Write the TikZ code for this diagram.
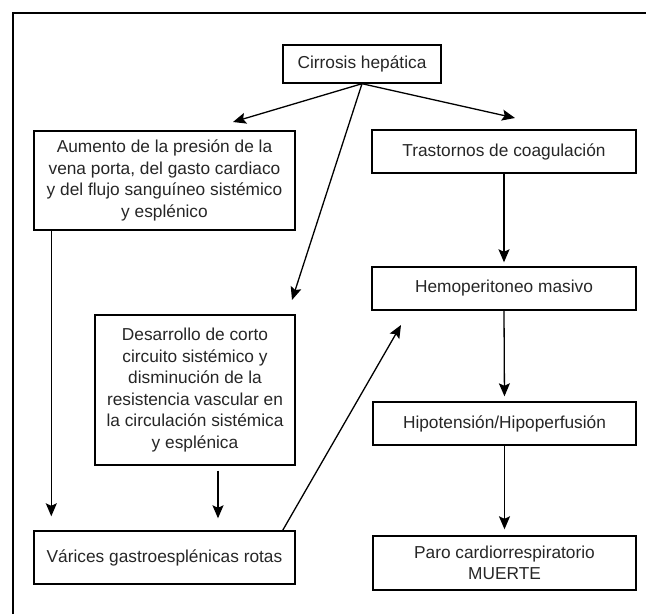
\documentclass[tikz,border=0pt]{standalone}
\usepackage{fontspec}
\setmainfont{Liberation Sans}
\usetikzlibrary{arrows.meta,calc}
\tikzset{
  box/.style={draw=black, line width=1.4pt, align=center, text=black!85,
    font=\fontsize{17.3}{21.6}\selectfont, inner sep=0pt},
  arr/.style={draw=black, line width=1.3pt, -{Stealth[length=13pt,width=11pt,inset=2.5pt]}},
  frame/.style={draw=black, line width=1.8pt}
}
\begin{document}
\begin{tikzpicture}[x=1pt,y=-1pt]
\useasboundingbox (0,0) rectangle (646,614);
% frame
\coordinate (fl) at (13,614);
\coordinate (fc) at (13,13);
\coordinate (fr) at (646,13);
\draw[frame] (fl) -- (fc) -- (fr);
% nodes
\node[box, minimum width=158pt, minimum height=38pt] (cir) at (362,64) {Cirrosis hepática};
\node[box, minimum width=261pt, minimum height=99pt] (aum) at (164.5,180.5)
  {Aumento de la presión de la\\vena porta, del gasto cardiaco\\y del flujo sanguíneo sistémico\\y esplénico};
\node[box, minimum width=264pt, minimum height=43pt] (tras) at (504,151.5) {Trastornos de coagulación};
\node[box, minimum width=264pt, minimum height=43pt] (hemo) at (504,288.5) {Hemoperitoneo masivo};
\node[box, minimum width=200pt, minimum height=150pt] (des) at (195,390)
  {Desarrollo de corto\\circuito sistémico y\\disminución de la\\resistencia vascular en\\la circulación sistémica\\y esplénica};
\node[box, minimum width=263pt, minimum height=43pt] (hipo) at (504.5,423.5) {Hipotensión/Hipoperfusión};
\node[box, minimum width=261pt, minimum height=53pt] (var) at (164.5,557.5) {Várices gastroesplénicas rotas};
\node[box, minimum width=263pt, minimum height=54pt] (paro) at (504.5,563) {Paro cardiorrespiratorio\\MUERTE};
% arrow tips
\coordinate (t1) at (233,122);
\coordinate (t2) at (515,118);
\coordinate (t3) at (292,300);
\coordinate (t4) at (401,325);
% connectors
\draw[arr] (cir.south) -- (t1);
\draw[arr] (cir.south) -- (t2);
\draw[arr] (cir.south) -- (t3);
\draw[arr, shorten >=4pt] (tras.south) -- (hemo.north);
\draw[arr, shorten >=5pt] (hemo.south) -- (hipo.north);
\draw[arr, shorten >=6pt] (hipo.south) -- (paro.north);
\draw[arr, shorten >=14pt] ($(aum.south west)+(18,0)$) -- ($(var.north west)+(18,0)$);
\draw[arr, shorten <=5pt, shorten >=12pt] (des.south) ++(23,0) coordinate (d1) -- (d1 |- var.north);
\draw[arr] ($(var.north east)+(-13,0)$) -- (t4);
\end{tikzpicture}
\end{document}
